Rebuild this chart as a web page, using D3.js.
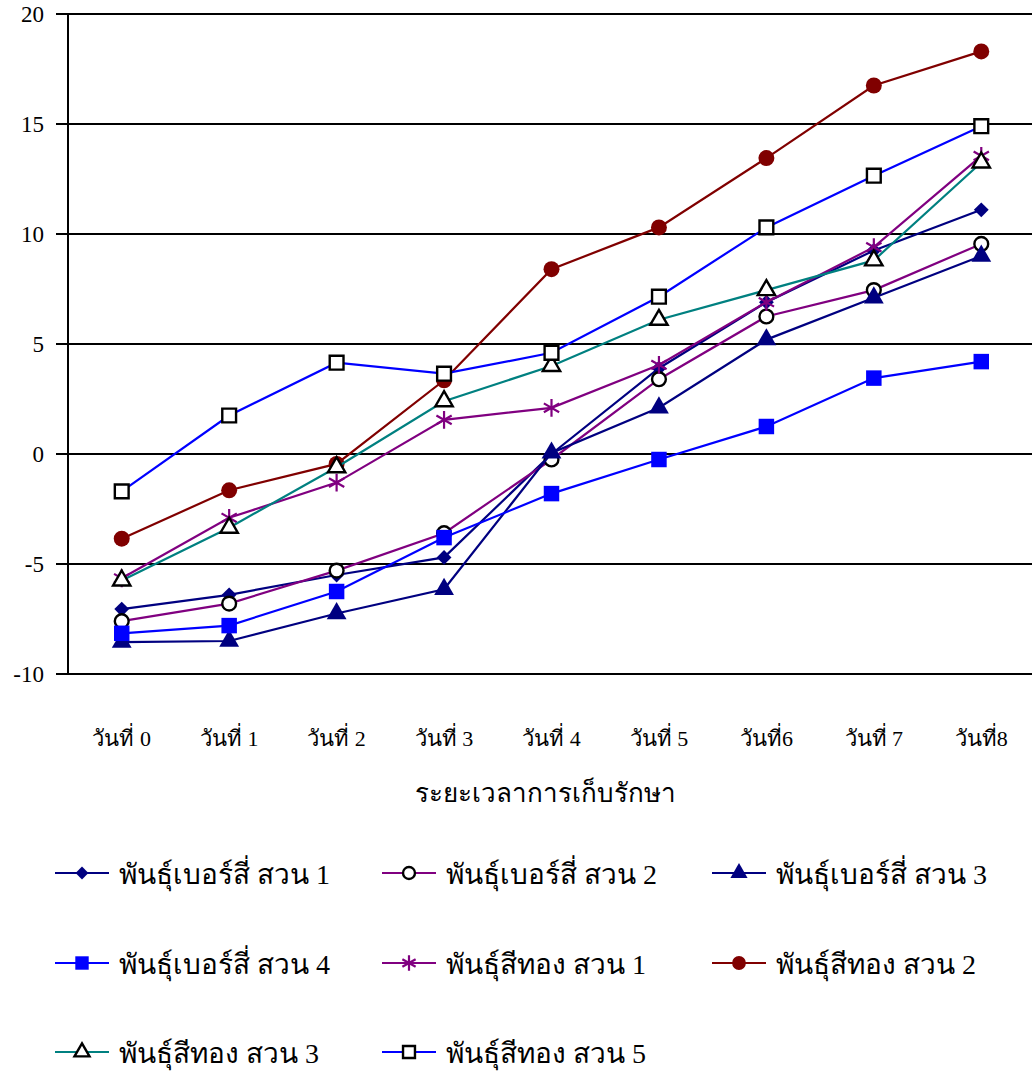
<!DOCTYPE html>
<html>
<head>
<meta charset="utf-8">
<script src="https://cdn.jsdelivr.net/npm/d3@7"></script>
<style>
  body { margin: 0; background: #fff; }
  text { font-family: "Liberation Serif", "Times New Roman", serif; fill: #000; }
</style>
</head>
<body>
<div id="chart"></div>
<script>
const DAYS = ['วันที่ 0', 'วันที่ 1', 'วันที่ 2', 'วันที่ 3', 'วันที่ 4', 'วันที่ 5', 'วันที่6', 'วันที่ 7', 'วันที่8'];
const Y_TICKS = [-10, -5, 0, 5, 10, 15, 20];

const berSi1 = [-7.05, -6.4, -5.5, -4.7, 0.0, 3.9, 6.9, 9.25, 11.1];
const berSi2 = [-7.6, -6.8, -5.3, -3.6, -0.25, 3.4, 6.25, 7.45, 9.55];
const berSi3 = [-8.55, -8.5, -7.25, -6.15, 0.05, 2.1, 5.2, 7.1, 9.0];
const berSi4 = [-8.15, -7.8, -6.25, -3.8, -1.8, -0.25, 1.25, 3.45, 4.2];
const seeTong1 = [-5.65, -2.9, -1.3, 1.55, 2.1, 4.05, 6.9, 9.4, 13.55];
const seeTong2 = [-3.85, -1.65, -0.45, 3.35, 8.4, 10.3, 13.45, 16.75, 18.3];
const seeTong3 = [-5.75, -3.35, -0.6, 2.4, 4.0, 6.1, 7.45, 8.8, 13.25];
const seeTong5 = [-1.7, 1.75, 4.15, 3.65, 4.6, 7.15, 10.3, 12.65, 14.9];

const series = [
  {name: 'พันธุ์เบอร์สี่ สวน 1', values: berSi1, color: '#000080', shape: 'diamond', fill: '#000080'},
  {name: 'พันธุ์เบอร์สี่ สวน 2', values: berSi2, color: '#800080', shape: 'circle', fill: '#fff'},
  {name: 'พันธุ์เบอร์สี่ สวน 3', values: berSi3, color: '#000080', shape: 'triangle', fill: '#000080'},
  {name: 'พันธุ์เบอร์สี่ สวน 4', values: berSi4, color: '#0000ff', shape: 'square', fill: '#0000ff'},
  {name: 'พันธุ์สีทอง สวน 1', values: seeTong1, color: '#800080', shape: 'star', fill: 'none'},
  {name: 'พันธุ์สีทอง สวน 2', values: seeTong2, color: '#800000', shape: 'circle', fill: '#800000'},
  {name: 'พันธุ์สีทอง สวน 3', values: seeTong3, color: '#008080', shape: 'triangle', fill: '#fff'},
  {name: 'พันธุ์สีทอง สวน 5', values: seeTong5, color: '#0000ff', shape: 'square', fill: '#fff'}
];

const W = 1032, H = 1071;
const plotLeft = 68, plotTop = 14, plotRight = 1035, plotBottom = 674;

const svg = d3.select('#chart').append('svg')
  .attr('width', W).attr('height', H);

const x = d3.scaleBand().domain(DAYS).range([plotLeft, plotRight]);
const y = d3.scaleLinear().domain([-10, 20]).range([plotBottom, plotTop]);

// gridlines
svg.append('g')
  .selectAll('line')
  .data(Y_TICKS)
  .enter().append('line')
    .attr('x1', plotLeft - 12).attr('x2', W)
    .attr('y1', d => y(d)).attr('y2', d => y(d))
    .attr('stroke', '#000').attr('stroke-width', 2);

// y axis
svg.append('line')
  .attr('x1', plotLeft).attr('x2', plotLeft)
  .attr('y1', plotTop).attr('y2', plotBottom)
  .attr('stroke', '#000').attr('stroke-width', 2);

svg.append('g')
  .selectAll('text')
  .data(Y_TICKS)
  .enter().append('text')
    .attr('x', plotLeft - 24)
    .attr('y', d => y(d) + 8)
    .attr('text-anchor', 'end')
    .style('font-family', '"Liberation Serif", serif')
    .style('font-size', '23px')
    .text(d => d);

// x tick labels
svg.append('g')
  .selectAll('text')
  .data(DAYS)
  .enter().append('text')
    .attr('x', d => x(d) + x.bandwidth() / 2)
    .attr('y', 746)
    .attr('text-anchor', 'middle')
    .style('font-size', '22px')
    .text(d => d);

svg.append('text')
  .attr('x', 545).attr('y', 802)
  .attr('text-anchor', 'middle')
  .style('font-size', '26px')
  .text('ระยะเวลาการเก็บรักษา');

function symbolFor(shape, size) {
  const t = {
    diamond: d3.symbolSquare,
    circle: d3.symbolCircle,
    triangle: d3.symbolTriangle,
    square: d3.symbolSquare,
    star: d3.symbolAsterisk
  }[shape];
  return d3.symbol().type(t).size(size)();
}

function markerSize(s) {
  if (s.shape === 'square' && s.fill !== '#fff') return 240;
  if (s.shape === 'square') return 190;
  if (s.shape === 'circle' && s.fill !== '#fff') return 200;
  if (s.shape === 'circle') return 150;
  if (s.shape === 'triangle' && s.fill !== '#fff') return 170;
  if (s.shape === 'triangle') return 130;
  if (s.shape === 'diamond') return 110;
  return 220;
}

function drawMarker(g, s, cx, cy, scale) {
  const isOpen = s.fill === '#fff' || s.shape === 'star';
  const rot = s.shape === 'diamond' ? ' rotate(45)' : '';
  g.append('path')
    .attr('d', symbolFor(s.shape, markerSize(s) * scale))
    .attr('transform', 'translate(' + cx + ',' + cy + ')' + rot)
    .attr('fill', s.shape === 'star' ? 'none' : s.fill)
    .attr('stroke', s.shape === 'star' ? s.color : (isOpen ? '#000' : 'none'))
    .attr('stroke-width', s.shape === 'star' ? 2.2 : 2.4);
}

const line = d3.line()
  .x((d, i) => x(DAYS[i]) + x.bandwidth() / 2)
  .y(d => y(d));

series.forEach(s => {
  const g = svg.append('g');
  g.append('path')
    .attr('d', line(s.values))
    .attr('fill', 'none')
    .attr('stroke', s.color)
    .attr('stroke-width', 2.2);
  s.values.forEach((v, i) => {
    drawMarker(g, s, x(DAYS[i]) + x.bandwidth() / 2, y(v), 1);
  });
});

// legend
const legCols = [55, 382, 712];
const legRows = [873, 963, 1052];
series.forEach((s, i) => {
  const lx = legCols[i % 3], ly = legRows[Math.floor(i / 3)];
  const g = svg.append('g');
  g.append('line')
    .attr('x1', lx).attr('x2', lx + 54)
    .attr('y1', ly).attr('y2', ly)
    .attr('stroke', s.color).attr('stroke-width', 2.2);
  drawMarker(g, s, lx + 27, ly, 0.75);
  g.append('text')
    .attr('x', lx + 64).attr('y', ly + 11)
    .style('font-size', '28px')
    .text(s.name);
});
</script>
</body>
</html>
